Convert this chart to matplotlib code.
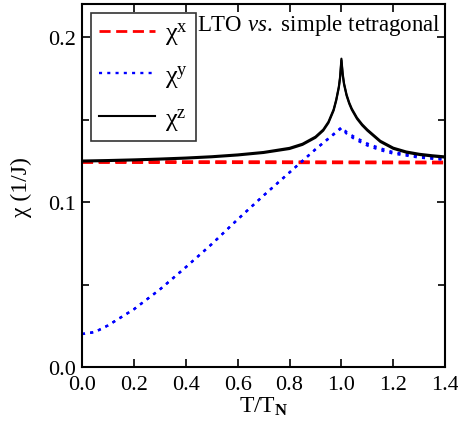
import matplotlib
matplotlib.use("Agg")
import matplotlib.pyplot as plt
from matplotlib.ticker import MultipleLocator

plt.rcParams["font.family"] = ["Liberation Serif", "DejaVu Serif"]
plt.rcParams["mathtext.fontset"] = "custom"
plt.rcParams["mathtext.rm"] = "Liberation Serif"
plt.rcParams["mathtext.it"] = "Liberation Serif:italic"
plt.rcParams["mathtext.bf"] = "Liberation Serif:bold"

# chi^x, two nearly flat curves (LTO and simple tetragonal)
t_x = [0.0, 0.7, 1.4]
chi_x_a = [0.1246, 0.1245, 0.1243]
chi_x_b = [0.1240, 0.1239, 0.1237]

# chi^y
t_y = [0.0, 0.05, 0.1, 0.2, 0.3, 0.4, 0.5, 0.6, 0.7, 0.8, 0.9, 1.0,
       1.02, 1.05, 1.1, 1.15, 1.2, 1.3, 1.4]
chi_y_a = [0.0200, 0.0212, 0.0252, 0.0350, 0.0470, 0.0605, 0.0745, 0.0895,
           0.1040, 0.1180, 0.1320, 0.1453,
           0.1425, 0.1395, 0.1355, 0.1326, 0.1303, 0.1277, 0.1262]
chi_y_b = [0.0200, 0.0212, 0.0252, 0.0350, 0.0470, 0.0605, 0.0745, 0.0895,
           0.1040, 0.1180, 0.1320, 0.1448,
           0.1415, 0.1383, 0.1343, 0.1315, 0.1294, 0.1270, 0.1256]

# chi^z
t_z = [0.0, 0.1, 0.2, 0.3, 0.4, 0.5, 0.6, 0.7, 0.8, 0.85, 0.9, 0.93, 0.95,
       0.97, 0.98, 0.99, 0.995, 1.0, 1.005, 1.01, 1.02, 1.03, 1.04, 1.06,
       1.08, 1.1, 1.15, 1.2, 1.25, 1.3, 1.35, 1.4]
chi_z_a = [0.1252, 0.1255, 0.1259, 0.1264, 0.1270, 0.1278, 0.1289, 0.1304,
           0.1329, 0.1354, 0.1397, 0.1440, 0.1487, 0.1562, 0.1622, 0.1700,
           0.1762, 0.1870, 0.1780, 0.1722, 0.1652, 0.1604, 0.1567, 0.1512,
           0.1472, 0.1440, 0.1372, 0.1330, 0.1307, 0.1293, 0.1284, 0.1277]
chi_z_b = [0.1246, 0.1249, 0.1253, 0.1258, 0.1264, 0.1272, 0.1283, 0.1298,
           0.1322, 0.1347, 0.1390, 0.1433, 0.1480, 0.1555, 0.1615, 0.1693,
           0.1752, 0.1860, 0.1770, 0.1714, 0.1645, 0.1597, 0.1560, 0.1505,
           0.1465, 0.1433, 0.1365, 0.1323, 0.1300, 0.1286, 0.1277, 0.1270]

fig = plt.figure(figsize=(4.58, 4.35), dpi=100)
ax = fig.add_axes([0.179, 0.154, 0.793, 0.834])

ax.plot(t_x, chi_x_a, color="red", ls=(0, (4, 2)), lw=2, label="χ$^{\\rm x}$")
ax.plot(t_x, chi_x_b, color="red", ls=(0, (4, 2)), lw=2)
ax.plot(t_y, chi_y_a, color="blue", ls=(0, (1.3, 2.2)), lw=1.7, label="χ$^{\\rm y}$")
ax.plot(t_y, chi_y_b, color="blue", ls=(0, (1.3, 2.2)), lw=1.7)
ax.plot(t_z, chi_z_a, color="black", lw=1.5, label="χ$^{\\rm z}$")
ax.plot(t_z, chi_z_b, color="black", lw=1.5)

ax.set_xlim(0, 1.4)
ax.set_ylim(0, 0.22)
ax.xaxis.set_major_locator(MultipleLocator(0.2))
ax.yaxis.set_major_locator(MultipleLocator(0.1))
ax.yaxis.set_minor_locator(MultipleLocator(0.05))
ax.xaxis.set_major_formatter(plt.FormatStrFormatter("%.1f"))
ax.yaxis.set_major_formatter(plt.FormatStrFormatter("%.1f"))
ax.tick_params(which="both", direction="in", top=True, right=True,
               labelsize=16, width=1.2)
ax.tick_params(which="major", length=6)
ax.tick_params(which="minor", length=5)
ax.tick_params(axis="x", pad=6)
ax.tick_params(axis="y", pad=4)
for s in ax.spines.values():
    s.set_linewidth(1.5)

ax.set_xlabel(r"T/T$_{\mathbf{N}}$", fontsize=17, labelpad=0)
ax.set_ylabel("χ (1/J)", fontsize=17, labelpad=12)

ax.text(0.987, 0.978, r"LTO $\it{vs.}$ simple tetragonal", transform=ax.transAxes,
        ha="right", va="top", fontsize=16.5)

leg = ax.legend(loc="upper left", bbox_to_anchor=(0.026, 0.977), fontsize=19,
                frameon=True, fancybox=False, edgecolor="black",
                handlelength=2.1, borderaxespad=0, handletextpad=0.4,
                labelspacing=0.6, borderpad=0.3)
leg.get_frame().set_linewidth(1.2)

fig.savefig("out.png", dpi=100)
